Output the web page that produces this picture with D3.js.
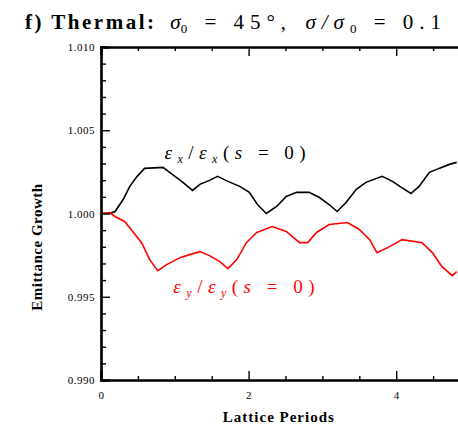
<!DOCTYPE html>
<html>
<head>
<meta charset="utf-8">
<script src="https://cdn.jsdelivr.net/npm/d3@7"></script>
<style>
  body { margin: 0; background: #fff; }
  svg { display: block; }
  .tick text { font-family: "Liberation Serif", serif; font-size: 11px; letter-spacing: 0.5px; fill: #000; }
</style>
</head>
<body>
<div id="chart"></div>
<script>
const width = 458, height = 432;
const margins = { top: 47, right: -12, bottom: 52, left: 101 };

// values: lattice periods vs emittance ratio
const periodsX = [0, 0.12, 0.19, 0.30, 0.39, 0.49, 0.59, 0.84, 0.93, 1.11, 1.24, 1.34, 1.47, 1.58, 1.72, 1.88, 2.01, 2.12, 2.24, 2.38, 2.51, 2.65, 2.82, 2.96, 3.09, 3.20, 3.32, 3.46, 3.59, 3.81, 3.95, 4.07, 4.20, 4.31, 4.45, 4.58, 4.72, 4.82];
const growthX = [1.0000, 1.0000, 1.00012, 1.00084, 1.00163, 1.00223, 1.00271, 1.00277, 1.00247, 1.00187, 1.00139, 1.00175, 1.00199, 1.00223, 1.00193, 1.00163, 1.00127, 1.00054, 1.00000, 1.00042, 1.00102, 1.00127, 1.00127, 1.00096, 1.00054, 1.00012, 1.00066, 1.00145, 1.00187, 1.00223, 1.00193, 1.00157, 1.00120, 1.00163, 1.00247, 1.00271, 1.00295, 1.00307];

const periodsY = [0, 0.12, 0.19, 0.32, 0.43, 0.55, 0.66, 0.77, 0.89, 1.07, 1.20, 1.34, 1.47, 1.61, 1.72, 1.84, 1.97, 2.11, 2.32, 2.51, 2.69, 2.80, 2.92, 3.09, 3.34, 3.50, 3.64, 3.74, 3.91, 4.08, 4.35, 4.49, 4.62, 4.76, 4.82];
const growthY = [1.0000, 1.00006, 0.99982, 0.99952, 0.99892, 0.99825, 0.99723, 0.99657, 0.99693, 0.99735, 0.99753, 0.99771, 0.99747, 0.99711, 0.99669, 0.99723, 0.99825, 0.99886, 0.99922, 0.99892, 0.99825, 0.99825, 0.99886, 0.99934, 0.99946, 0.99904, 0.99843, 0.99765, 0.99801, 0.99843, 0.99825, 0.99765, 0.99681, 0.99627, 0.99651];

const xMajor = [0, 2, 4];
const xMinor = [0.5, 1, 1.5, 2.5, 3, 3.5, 4.5];
const yMajor = [0.990, 0.995, 1.000, 1.005, 1.010];
const yMinor = [0.991, 0.992, 0.993, 0.994, 0.996, 0.997, 0.998, 0.999, 1.001, 1.002, 1.003, 1.004, 1.006, 1.007, 1.008, 1.009];

const svg = d3.select("#chart")
    .append("svg")
    .attr("width", width)
    .attr("height", height);

svg.append("rect").attr("width", width).attr("height", height).attr("fill", "#fff");

const x = d3.scaleLinear()
    .domain([0, 5])
    .range([margins.left, width - margins.right]);

const y = d3.scaleLinear()
    .domain([0.990, 1.010])
    .range([height - margins.bottom, margins.top]);

const line = d3.line()
    .x(d => x(d[0]))
    .y(d => y(d[1]));

svg.append("path")
    .datum(d3.zip(periodsX, growthX))
    .attr("d", line)
    .attr("fill", "none")
    .attr("stroke", "#000")
    .attr("stroke-width", 1.6);

svg.append("path")
    .datum(d3.zip(periodsY, growthY))
    .attr("d", line)
    .attr("fill", "none")
    .attr("stroke", "#ff0000")
    .attr("stroke-width", 1.6);

// axes with inside ticks (IDL style)
const yBottom = height - margins.bottom, yTop = margins.top;

svg.append("g")
    .attr("transform", `translate(0,${yBottom})`)
    .call(d3.axisBottom(x).tickValues(xMajor).tickSize(-9).tickPadding(11).tickFormat(d3.format("d")));
svg.append("g")
    .attr("transform", `translate(0,${yBottom})`)
    .call(d3.axisBottom(x).tickValues(xMinor).tickSize(-4).tickFormat(""));
svg.append("g")
    .attr("transform", `translate(0,${yTop})`)
    .call(d3.axisTop(x).tickValues(xMajor).tickSize(-9).tickFormat(""));
svg.append("g")
    .attr("transform", `translate(0,${yTop})`)
    .call(d3.axisTop(x).tickValues(xMinor).tickSize(-4).tickFormat(""));

svg.append("g")
    .attr("transform", `translate(${margins.left},0)`)
    .call(d3.axisLeft(y).tickValues(yMajor).tickSize(-9).tickPadding(6).tickFormat(d3.format(".3f")));
svg.append("g")
    .attr("transform", `translate(${margins.left},0)`)
    .call(d3.axisLeft(y).tickValues(yMinor).tickSize(-5).tickFormat(""));

svg.selectAll(".domain").attr("stroke-width", 2.2);
svg.selectAll(".tick line").attr("stroke-width", 1.4);

// titles
const title = svg.append("text")
    .attr("x", 25).attr("y", 29)
    .attr("font-family", "Liberation Serif, serif")
    .attr("font-size", 21);
title.append("tspan").attr("font-weight", "bold").attr("letter-spacing", 2.5).text("f) Thermal: ");
title.append("tspan").attr("dx", 6).attr("font-style", "italic").text("σ");
title.append("tspan").attr("font-size", 13).attr("dy", 4).attr("letter-spacing", 6).text("0");
title.append("tspan").attr("dy", -4).attr("letter-spacing", 6).text(" = 45°, ");
title.append("tspan").attr("dx", 2).attr("font-style", "italic").attr("letter-spacing", 6).text("σ/σ");
title.append("tspan").attr("font-size", 13).attr("dy", 4).attr("letter-spacing", 6).text("0");
title.append("tspan").attr("dy", -4).attr("letter-spacing", 6).text(" = 0.1");

svg.append("text")
    .attr("x", x(2.41)).attr("y", 422)
    .attr("text-anchor", "middle")
    .attr("font-family", "Liberation Serif, serif")
    .attr("font-size", 15)
    .attr("font-weight", "bold")
    .attr("letter-spacing", 1)
    .text("Lattice Periods");

svg.append("text")
    .attr("transform", "translate(42,247) rotate(-90)")
    .attr("text-anchor", "middle")
    .attr("font-family", "Liberation Serif, serif")
    .attr("font-size", 15)
    .attr("font-weight", "bold")
    .attr("letter-spacing", 0.5)
    .text("Emittance Growth");

function curveLabel(px, py, sub, color) {
    const t = svg.append("text")
        .attr("x", x(px)).attr("y", y(py))
        .attr("font-family", "Liberation Serif, serif")
        .attr("font-size", 19)
        .attr("letter-spacing", 5.5)
        .attr("fill", color);
    t.append("tspan").attr("font-style", "italic").text("ε");
    t.append("tspan").attr("font-style", "italic").attr("font-size", 12).attr("dy", 4).text(sub);
    t.append("tspan").attr("dy", -4).text("/");
    t.append("tspan").attr("font-style", "italic").text("ε");
    t.append("tspan").attr("font-style", "italic").attr("font-size", 12).attr("dy", 4).text(sub);
    t.append("tspan").attr("dy", -4).text("(");
    t.append("tspan").attr("font-style", "italic").text("s");
    t.append("tspan").text(" = 0)");
}
curveLabel(0.86, 1.00325, "x", "#000");
curveLabel(0.98, 0.99520, "y", "#ff0000");
</script>
</body>
</html>
